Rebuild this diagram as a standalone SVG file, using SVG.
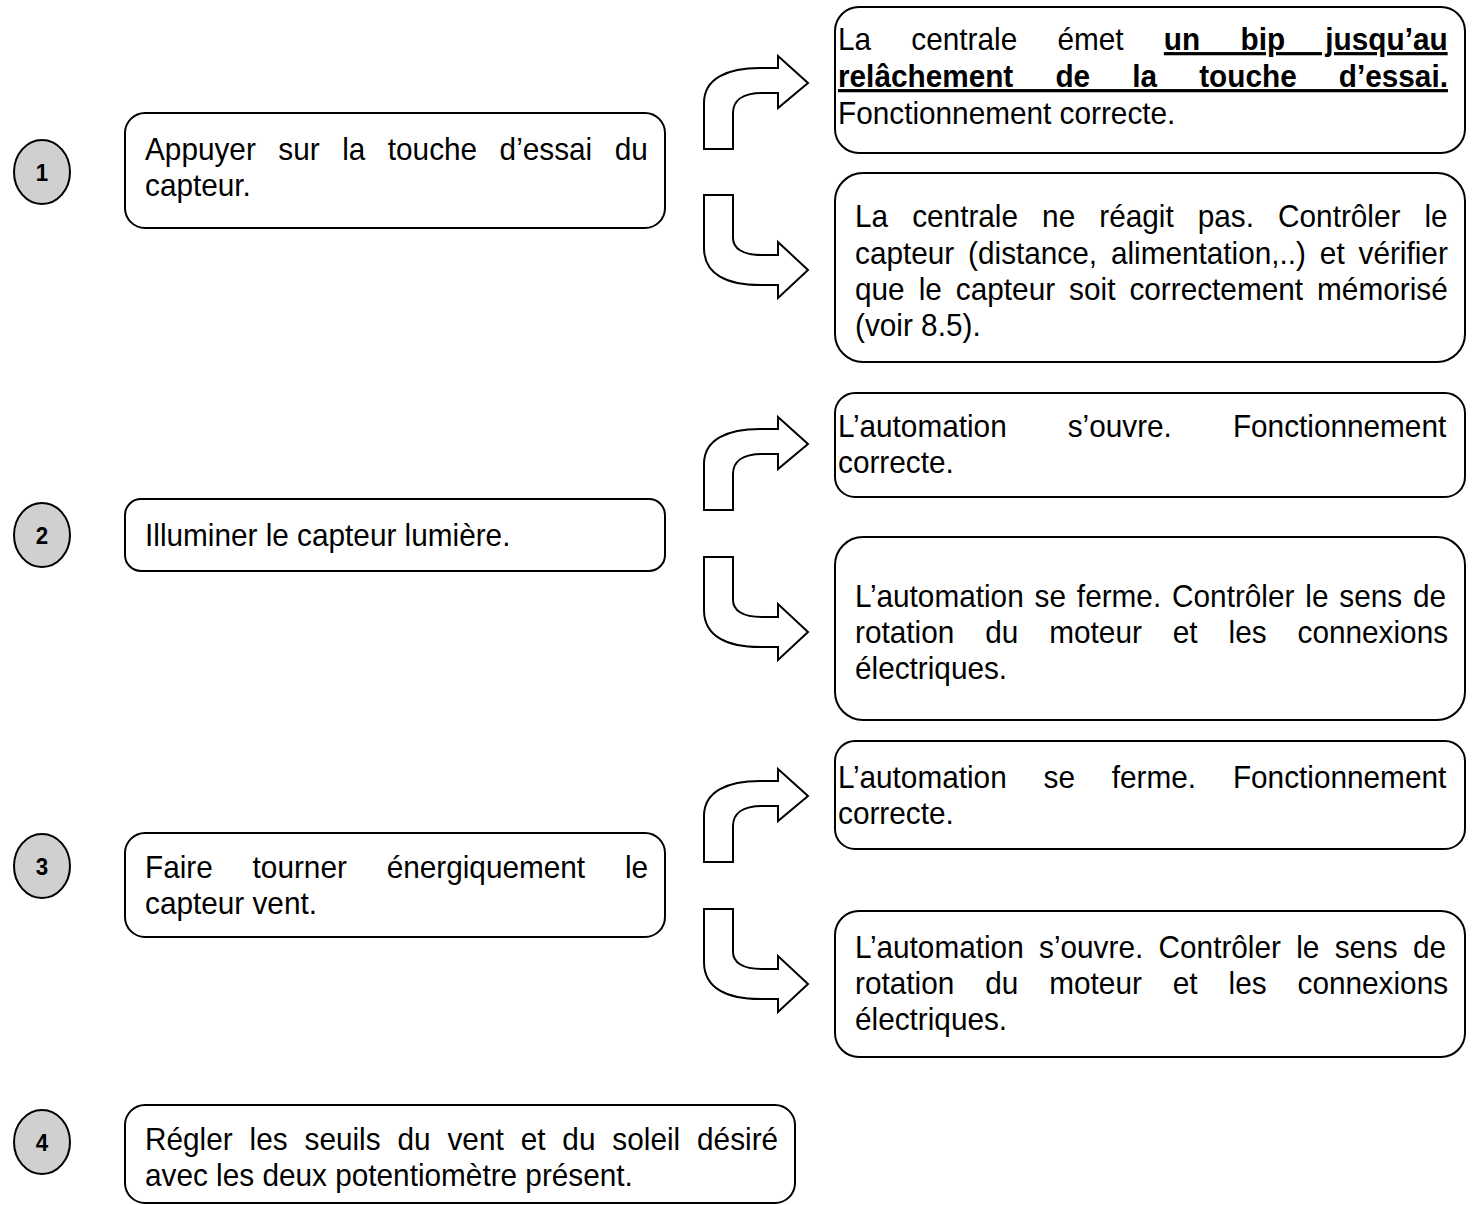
<svg xmlns="http://www.w3.org/2000/svg" width="1474" height="1205" viewBox="0 0 1474 1205">
<style>
.box{fill:#fff;stroke:#000;stroke-width:2}
.num{fill:#d0d0d0;stroke:#000;stroke-width:2}
.arr{fill:#fff;stroke:#000;stroke-width:2;stroke-linejoin:miter}
.t{font-family:"Liberation Sans",Arial,sans-serif;font-size:32px;fill:#000}
.b{font-weight:bold}
.u{text-decoration:underline}
.n{font-family:"Liberation Sans",Arial,sans-serif;font-size:24px;font-weight:bold;fill:#000;text-anchor:middle}
</style>
<rect width="1474" height="1205" fill="#fff"/>
<g id="connectors">
<path class="arr" d="M704,149 L704,103 C704,78 728,68 760,68 L778,68 L778,56 L808,83 L778,108 L778,93 L762,93 C742,93 733,101 733,113 L733,149 Z"/>
<path class="arr" d="M704,195 L704,248 C704,275 728,285 760,285 L778,285 L778,298 L808,270 L778,242 L778,255 L762,255 C742,255 733,248 733,238 L733,195 Z"/>
<path class="arr" d="M704,510 L704,464 C704,439 728,429 760,429 L778,429 L778,417 L808,444 L778,469 L778,454 L762,454 C742,454 733,462 733,474 L733,510 Z"/>
<path class="arr" d="M704,557 L704,610 C704,637 728,647 760,647 L778,647 L778,660 L808,632 L778,604 L778,617 L762,617 C742,617 733,610 733,600 L733,557 Z"/>
<path class="arr" d="M704,862 L704,816 C704,791 728,781 760,781 L778,781 L778,769 L808,796 L778,821 L778,806 L762,806 C742,806 733,814 733,826 L733,862 Z"/>
<path class="arr" d="M704,909 L704,962 C704,989 728,999 760,999 L778,999 L778,1012 L808,984 L778,956 L778,969 L762,969 C742,969 733,962 733,952 L733,909 Z"/>
</g>
<g id="step1">
<ellipse class="num" cx="42" cy="172" rx="28" ry="32"/>
<text class="n" transform="translate(42,0) scale(0.93,1)" x="0" y="181">1</text>
</g>
<g id="step2">
<ellipse class="num" cx="42" cy="535" rx="28" ry="32"/>
<text class="n" transform="translate(42,0) scale(0.93,1)" x="0" y="544">2</text>
</g>
<g id="step3">
<ellipse class="num" cx="42" cy="866" rx="28" ry="32"/>
<text class="n" transform="translate(42,0) scale(0.93,1)" x="0" y="875">3</text>
</g>
<g id="step4">
<ellipse class="num" cx="42" cy="1142" rx="28" ry="32"/>
<text class="n" transform="translate(42,0) scale(0.93,1)" x="0" y="1151">4</text>
</g>
<g id="box1">
<rect class="box" x="125" y="113" width="540" height="115" rx="20"/>
<text class="t" transform="translate(145,0) scale(0.93,1)"><tspan x="0" y="160" word-spacing="15.3">Appuyer sur la touche d’essai du</tspan><tspan x="0" y="196">capteur.</tspan></text>
</g>
<g id="box2">
<rect class="box" x="125" y="499" width="540" height="72" rx="16"/>
<text class="t" transform="translate(145,0) scale(0.93,1)"><tspan x="0" y="546">Illuminer le capteur lumière.</tspan></text>
</g>
<g id="box3">
<rect class="box" x="125" y="833" width="540" height="104" rx="20"/>
<text class="t" transform="translate(145,0) scale(0.93,1)"><tspan x="0" y="878" word-spacing="33.9">Faire tourner énergiquement le</tspan><tspan x="0" y="914">capteur vent.</tspan></text>
</g>
<g id="box4">
<rect class="box" x="125" y="1105" width="670" height="98" rx="20"/>
<text class="t" transform="translate(145,0) scale(0.93,1)"><tspan x="0" y="1150" word-spacing="9.3">Régler les seuils du vent et du soleil désiré</tspan><tspan x="0" y="1186">avec les deux potentiomètre présent.</tspan></text>
</g>
<g id="result1a">
<rect class="box" x="835" y="7" width="630" height="146" rx="24"/>
<text class="t" transform="translate(838,0) scale(0.93,1)"><tspan x="0" y="50" word-spacing="34.4">La centrale émet <tspan class="b u">un bip jusqu’au</tspan></tspan><tspan class="b u" x="0" y="87" word-spacing="36.4">relâchement de la touche d’essai.</tspan><tspan x="0" y="124">Fonctionnement correcte.</tspan></text>
</g>
<g id="result1b">
<rect class="box" x="835" y="173" width="630" height="189" rx="28"/>
<text class="t" transform="translate(855,0) scale(0.93,1)"><tspan x="0" y="227" word-spacing="17.0">La centrale ne réagit pas. Contrôler le</tspan><tspan x="0" y="264" word-spacing="6.0">capteur (distance, alimentation,..) et vérifier</tspan><tspan x="0" y="300" word-spacing="6.2">que le capteur soit correctement mémorisé</tspan><tspan x="0" y="336">(voir 8.5).</tspan></text>
</g>
<g id="result2a">
<rect class="box" x="835" y="393" width="630" height="104" rx="20"/>
<text class="t" transform="translate(838,0) scale(0.93,1)"><tspan x="0" y="437" word-spacing="56.7">L’automation s’ouvre. Fonctionnement</tspan><tspan x="0" y="473">correcte.</tspan></text>
</g>
<g id="result2b">
<rect class="box" x="835" y="537" width="630" height="183" rx="28"/>
<text class="t" transform="translate(855,0) scale(0.93,1)"><tspan x="0" y="607" word-spacing="2.8">L’automation se ferme. Contrôler le sens de</tspan><tspan x="0" y="643" word-spacing="24.4">rotation du moteur et les connexions</tspan><tspan x="0" y="679">électriques.</tspan></text>
</g>
<g id="result3a">
<rect class="box" x="835" y="741" width="630" height="108" rx="20"/>
<text class="t" transform="translate(838,0) scale(0.93,1)"><tspan x="0" y="788" word-spacing="30.7">L’automation se ferme. Fonctionnement</tspan><tspan x="0" y="824">correcte.</tspan></text>
</g>
<g id="result3b">
<rect class="box" x="835" y="911" width="630" height="146" rx="24"/>
<text class="t" transform="translate(855,0) scale(0.93,1)"><tspan x="0" y="958" word-spacing="7.6">L’automation s’ouvre. Contrôler le sens de</tspan><tspan x="0" y="994" word-spacing="24.4">rotation du moteur et les connexions</tspan><tspan x="0" y="1030">électriques.</tspan></text>
</g>
</svg>
